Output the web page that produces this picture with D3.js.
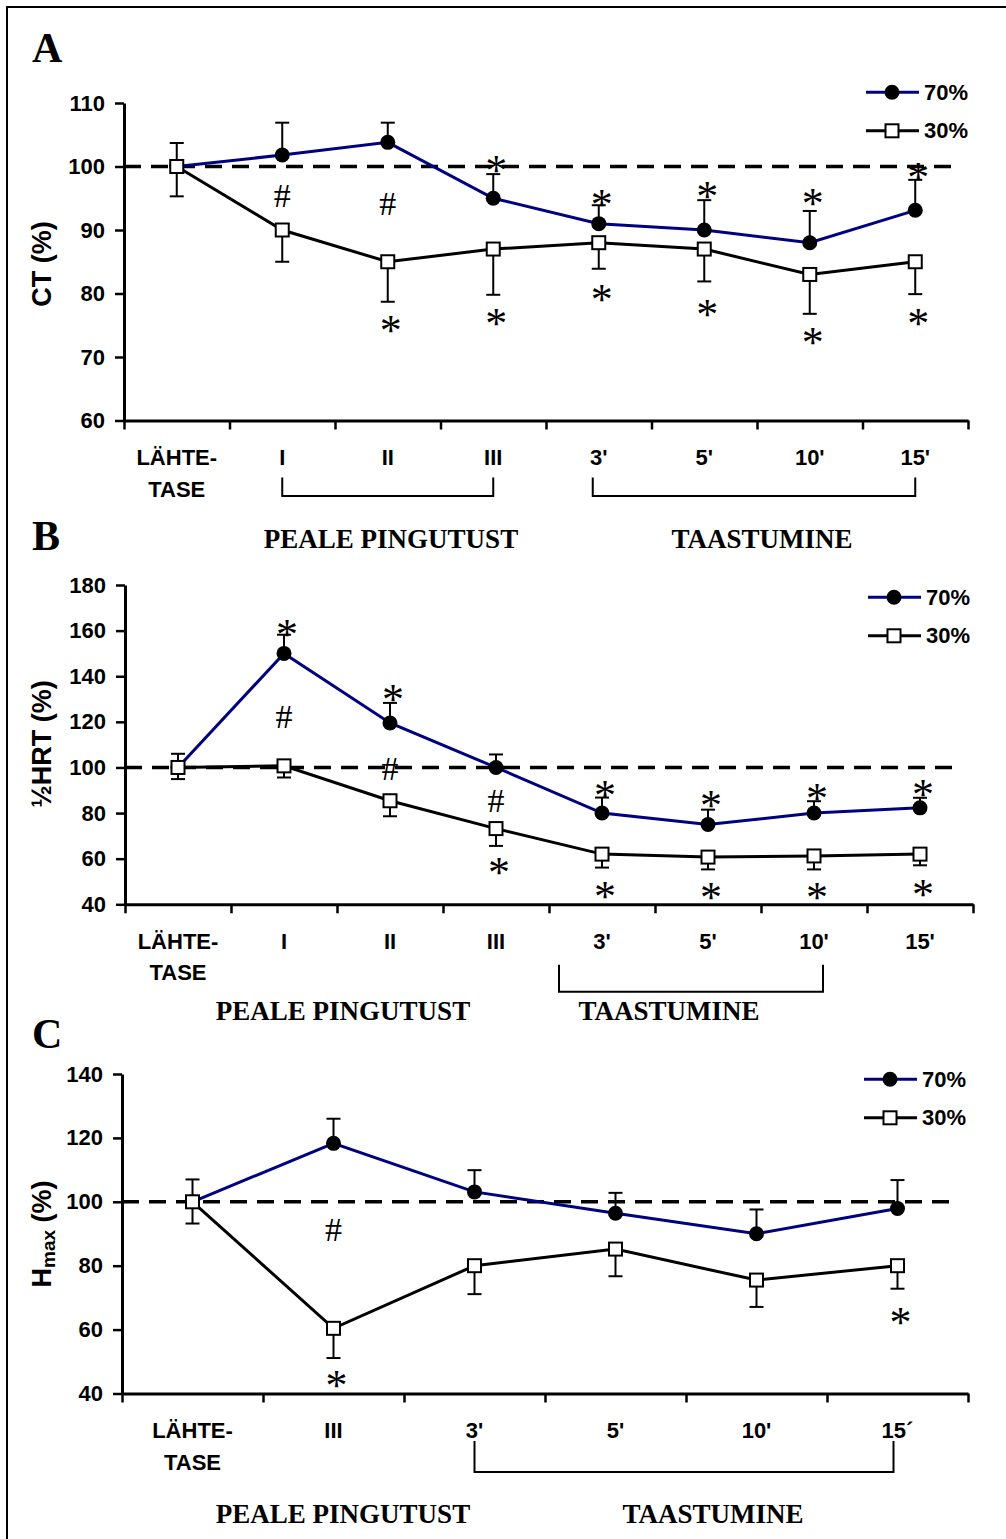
<!DOCTYPE html>
<html>
<head>
<meta charset="utf-8">
<script src="https://cdn.jsdelivr.net/npm/d3@7"></script>
<style>
  body { margin: 0; background: #fff; }
  svg { display: block; }
</style>
</head>
<body>
<svg id="chart" width="1006" height="1539"></svg>
<script>
// ---- categories ----
const catsFull  = ["LÄHTE-|TASE", "I", "II", "III", "3'", "5'", "10'", "15'"];
const catsShort = ["LÄHTE-|TASE", "III", "3'", "5'", "10'", "15´"];

// ---- A: CT (%) ----
const ctTicks    = [60, 70, 80, 90, 100, 110];
const ctHigh     = [100, 101.8, 103.8, 95, 91, 90, 88, 93.1];
const ctHighErr  = [3.7, 5.1, 3.1, 3.8, 2.9, 4.7, 5.0, 4.8];
const ctLow      = [100, 90, 85, 87, 88, 87, 83, 85];
const ctLowErr   = [4.7, 5.0, 6.3, 7.2, 4.1, 5.1, 6.2, 5.1];
const ctStars    = [["III", 100.5], ["3'", 95.2], ["5'", 96.5], ["10'", 95.4], ["15'", 99.4],
                    ["II", 75.3], ["III", 76.4], ["3'", 80.2], ["5'", 77.8], ["10'", 73.4], ["15'", 76.5]];
const ctHashes   = [["I", 95.4], ["II", 94.2]];

// ---- B: ½HRT (%) ----
const hrtTicks   = [40, 60, 80, 100, 120, 140, 160, 180];
const hrtHigh    = [100, 150, 119.5, 100, 80, 75, 80, 82.3];
const hrtHighErr = [6.0, 8.2, 8.8, 5.7, 6.8, 6.5, 5.2, 4.4];
const hrtLow     = [100, 100.7, 85.4, 73.2, 62, 60.7, 61.2, 62];
const hrtLowErr  = [5.1, 5.1, 6.8, 7.6, 5.9, 5.4, 5.9, 4.9];
const hrtStars   = [["I", 161.7], ["II", 133.0], ["3'", 91.1], ["5'", 86.4], ["10'", 89.6], ["15'", 91.5],
                    ["III", 57.1], ["3'", 46.9], ["5'", 46.2], ["10'", 46.2], ["15'", 47.6]];
const hrtHashes  = [["I", 122.5], ["II", 99.7], ["III", 85.7]];

// ---- C: Hmax (%) ----
const hmaxTicks   = [40, 60, 80, 100, 120, 140];
const hmaxHigh    = [100, 118.3, 103.1, 96.4, 90, 97.9];
const hmaxHighErr = [7.0, 7.7, 6.8, 6.4, 7.6, 8.9];
const hmaxLow     = [100, 60.4, 80, 85.2, 75.5, 80];
const hmaxLowErr  = [6.8, 9.3, 8.9, 8.5, 8.4, 7.2];
const hmaxStars   = [["III", 44.8], ["15´", 64.5]];
const hmaxHashes  = [["III", 91.4]];

const seriesNames = ["70%", "30%"];

// ---- styling ----
const SANS  = "'Liberation Sans', Arial, Helvetica, sans-serif";
const SERIF = "'Liberation Serif', 'Times New Roman', Times, serif";
const NAVY  = "#000080";

const svg = d3.select("#chart");

// outer frame (left and top edges)
svg.append("path")
  .attr("d", "M7,1539V7H1006")
  .attr("fill", "none").attr("stroke", "#000").attr("stroke-width", 2);

const panels = [
  {
    letter: "A", letterY: 62, titleY: 264, title: "CT (%)",
    cats: catsFull, domain: [60, 110], ticks: ctTicks,
    x0: 124, x1: 968, yTop: 103, yBot: 420.5, dashEnd: 953,
    hi: ctHigh, hiErr: ctHighErr, lo: ctLow, loErr: ctLowErr,
    stars: ctStars, hashes: ctHashes, legendX: 866, legendY: 92.3,
    decor: (g, xc, yBot) => {
      bracket(g, xc("I"), xc("III"), yBot + 57, yBot + 75.5);
      bracket(g, xc("3'") - 6, xc("15'"), yBot + 57, yBot + 75.5);
      groupLabel(g, "PEALE PINGUTUST", 391, yBot + 127.5);
      groupLabel(g, "TAASTUMINE", 762, yBot + 127.5);
    }
  },
  {
    letter: "B", letterY: 550, titleY: 744, title: "½HRT (%)",
    cats: catsFull, domain: [40, 180], ticks: hrtTicks,
    x0: 125, x1: 973, yTop: 585, yBot: 904.3, dashEnd: 957,
    hi: hrtHigh, hiErr: hrtHighErr, lo: hrtLow, loErr: hrtLowErr,
    stars: hrtStars, hashes: hrtHashes, legendX: 868, legendY: 597.3,
    decor: (g, xc, yBot) => {
      bracket(g, xc("3'") - 43, xc("10'") + 9, yBot + 60.5, yBot + 87.5);
      groupLabel(g, "PEALE PINGUTUST", 343, yBot + 115.7);
      groupLabel(g, "TAASTUMINE", 669, yBot + 115.7);
    }
  },
  {
    letter: "C", letterY: 1048, titleY: 1234, title: null,
    cats: catsShort, domain: [40, 140], ticks: hmaxTicks,
    x0: 122, x1: 968, yTop: 1074, yBot: 1393.5, dashEnd: 951,
    hi: hmaxHigh, hiErr: hmaxHighErr, lo: hmaxLow, loErr: hmaxLowErr,
    stars: hmaxStars, hashes: hmaxHashes, legendX: 864, legendY: 1079.3,
    decor: (g, xc, yBot) => {
      bracket(g, xc("3'"), xc("15´") - 4, yBot + 47.5, yBot + 78.5);
      groupLabel(g, "PEALE PINGUTUST", 343, yBot + 129.5);
      groupLabel(g, "TAASTUMINE", 713, yBot + 129.5);
    }
  }
];

function bracket(g, xa, xb, yTop, yBottom) {
  g.append("path")
    .attr("d", `M${xa},${yTop}V${yBottom}H${xb}V${yTop}`)
    .attr("fill", "none").attr("stroke", "#000").attr("stroke-width", 2);
}

function groupLabel(g, text, cx, baseline) {
  g.append("text")
    .attr("x", cx).attr("y", baseline)
    .attr("text-anchor", "middle")
    .attr("font-family", SERIF).attr("font-weight", "bold").attr("font-size", 27)
    .text(text);
}

function drawPanel(p) {
  const g = svg.append("g");
  const x = d3.scaleBand().domain(p.cats).range([p.x0, p.x1]);
  const xc = c => x(c) + x.bandwidth() / 2;
  const y = d3.scaleLinear().domain(p.domain).range([p.yBot, p.yTop]);

  // panel letter
  g.append("text")
    .attr("x", 32).attr("y", p.letterY)
    .attr("font-family", SERIF).attr("font-weight", "bold").attr("font-size", 42)
    .text(p.letter);

  // y axis title
  const t = g.append("text")
    .attr("transform", `translate(42,${p.titleY}) rotate(-90)`)
    .attr("text-anchor", "middle").attr("dominant-baseline", "central")
    .attr("font-family", SANS).attr("font-weight", "bold").attr("font-size", 27);
  if (p.title) {
    t.text(p.title);
  } else {
    t.append("tspan").text("H");
    t.append("tspan").attr("font-size", 19).attr("dy", 6).text("max");
    t.append("tspan").attr("dy", -6).text(" (%)");
  }

  // y axis
  const ya = g.append("g")
    .attr("transform", `translate(${p.x0},0)`)
    .call(d3.axisLeft(y).tickValues(p.ticks).tickSize(9).tickSizeOuter(0).tickPadding(10));
  ya.select(".domain").attr("stroke-width", 3);
  ya.selectAll(".tick line").attr("stroke-width", 2.5);
  ya.selectAll(".tick text")
    .attr("font-family", SANS).attr("font-weight", "bold").attr("font-size", 22).attr("fill", "#000");

  // x axis: tick marks at category boundaries
  const xl = d3.scaleLinear().domain([0, p.cats.length]).range([p.x0, p.x1]);
  const xa = g.append("g")
    .attr("transform", `translate(0,${p.yBot})`)
    .call(d3.axisBottom(xl).tickValues(d3.range(p.cats.length + 1)).tickSize(9).tickSizeOuter(0).tickFormat(""));
  xa.select(".domain").attr("stroke-width", 3);
  xa.selectAll(".tick line").attr("stroke-width", 2.5);

  // category labels
  p.cats.forEach(c => {
    const lines = c.split("|");
    const tx = g.append("text")
      .attr("x", xc(c)).attr("y", p.yBot + 44.5)
      .attr("text-anchor", "middle")
      .attr("font-family", SANS).attr("font-weight", "bold").attr("font-size", 22);
    lines.forEach((ln, i) => {
      tx.append("tspan").attr("x", xc(c)).attr("dy", i === 0 ? 0 : 31.5).text(ln);
    });
  });

  // reference line at 100 %
  g.append("line")
    .attr("x1", p.x0).attr("x2", p.dashEnd)
    .attr("y1", y(100)).attr("y2", y(100))
    .attr("stroke", "#000").attr("stroke-width", 3.5).attr("stroke-dasharray", "17,10");

  const hiPts = p.cats.map((c, i) => ({ c, v: p.hi[i], e: p.hiErr[i] }));
  const loPts = p.cats.map((c, i) => ({ c, v: p.lo[i], e: p.loErr[i] }));
  const line = d3.line().x(d => xc(d.c)).y(d => y(d.v));

  // error bars: 70 % upward, 30 % downward
  const errs = hiPts.map(d => ({ c: d.c, a: d.v, b: d.v + d.e }))
    .concat(loPts.map(d => ({ c: d.c, a: d.v, b: d.v - d.e })));
  errs.forEach(d => {
    g.append("line").attr("x1", xc(d.c)).attr("x2", xc(d.c))
      .attr("y1", y(d.a)).attr("y2", y(d.b)).attr("stroke", "#000").attr("stroke-width", 2);
    g.append("line").attr("x1", xc(d.c) - 7).attr("x2", xc(d.c) + 7)
      .attr("y1", y(d.b)).attr("y2", y(d.b)).attr("stroke", "#000").attr("stroke-width", 2);
  });

  // series lines
  g.append("path").datum(hiPts).attr("d", line)
    .attr("fill", "none").attr("stroke", NAVY).attr("stroke-width", 3);
  g.append("path").datum(loPts).attr("d", line)
    .attr("fill", "none").attr("stroke", "#000").attr("stroke-width", 3);

  // markers
  g.selectAll(".hi").data(hiPts).enter().append("circle")
    .attr("cx", d => xc(d.c)).attr("cy", d => y(d.v)).attr("r", 7.5).attr("fill", "#000");
  g.selectAll(".lo").data(loPts).enter().append("rect")
    .attr("x", d => xc(d.c) - 6.5).attr("y", d => y(d.v) - 6.5)
    .attr("width", 13).attr("height", 13)
    .attr("fill", "#fff").attr("stroke", "#000").attr("stroke-width", 2);

  // significance marks
  p.stars.forEach(([c, v]) => {
    const fs = 44;
    g.append("text")
      .attr("x", xc(c) + 3).attr("y", y(v) + 0.5 * fs)
      .attr("text-anchor", "middle")
      .attr("font-family", SERIF).attr("font-size", fs)
      .text("*");
  });
  p.hashes.forEach(([c, v]) => {
    const fs = 34;
    g.append("text")
      .attr("x", xc(c)).attr("y", y(v) + 0.34 * fs)
      .attr("text-anchor", "middle")
      .attr("font-family", SERIF).attr("font-size", fs)
      .text("#");
  });

  // legend
  const lg = g.append("g").attr("transform", `translate(${p.legendX},${p.legendY})`);
  seriesNames.forEach((name, i) => {
    const ly = i * 38.5;
    lg.append("line").attr("x1", 0).attr("x2", 53).attr("y1", ly).attr("y2", ly)
      .attr("stroke", i === 0 ? NAVY : "#000").attr("stroke-width", 3);
    if (i === 0) {
      lg.append("circle").attr("cx", 26).attr("cy", ly).attr("r", 7.5).attr("fill", "#000");
    } else {
      lg.append("rect").attr("x", 19.5).attr("y", ly - 6.5).attr("width", 13).attr("height", 13)
        .attr("fill", "#fff").attr("stroke", "#000").attr("stroke-width", 2);
    }
    lg.append("text").attr("x", 58).attr("y", ly + 7.5)
      .attr("font-family", SANS).attr("font-weight", "bold").attr("font-size", 22)
      .text(name);
  });

  p.decor(g, xc, p.yBot);
}

panels.forEach(drawPanel);
</script>
</body>
</html>
